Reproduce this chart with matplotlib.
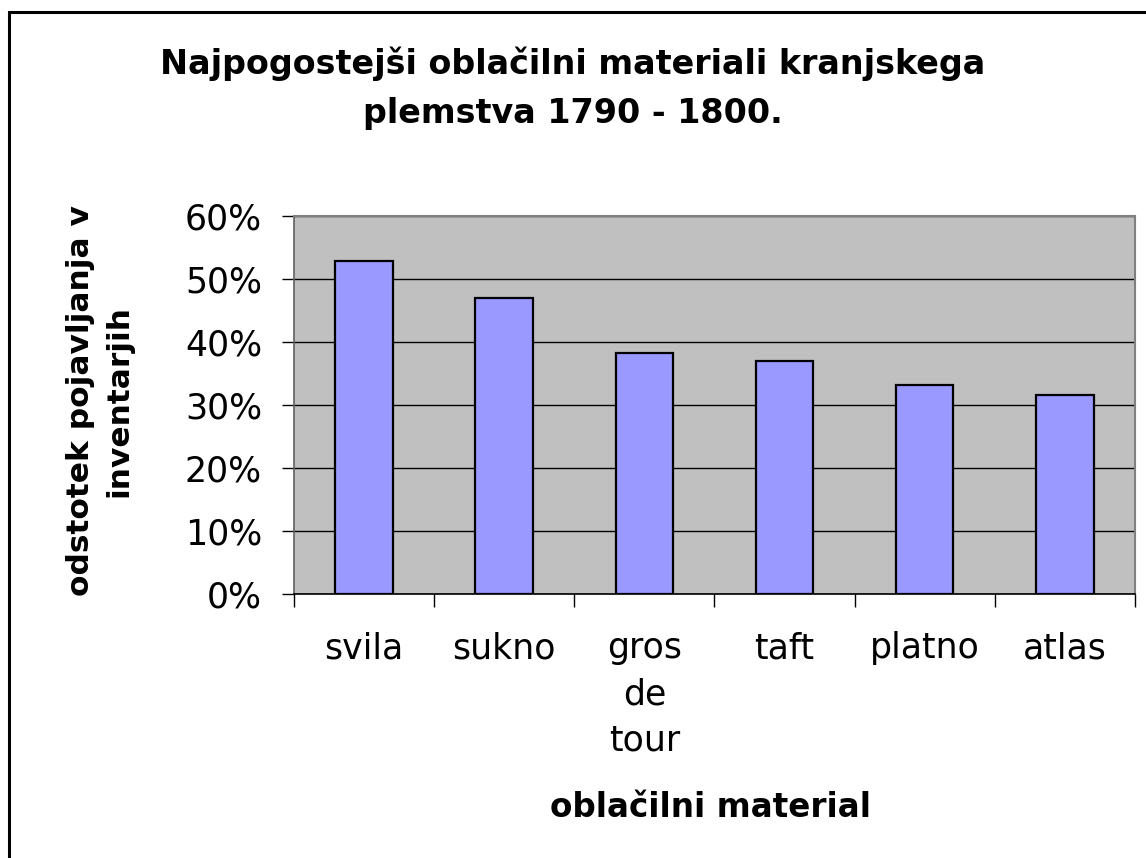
import matplotlib
matplotlib.use("Agg")
import matplotlib.pyplot as plt
from matplotlib.patches import Rectangle
from matplotlib.ticker import PercentFormatter

plt.rcParams['font.family'] = ['DejaVu Sans']

# data
materials = ['svila', 'sukno', 'gros\nde\ntour', 'taft', 'platno', 'atlas']
shares = [52.9, 47.0, 38.2, 37.0, 33.1, 31.6]

fig = plt.figure(figsize=(11.46, 8.58), dpi=100)
ax = fig.add_axes([0.2565, 0.3078, 0.7339, 0.4406])

# outer chart frame (only left and top edges visible)
fig.patches.append(Rectangle((0.0075, -0.2), 1.5, 0.986 + 0.2, transform=fig.transFigure,
                             fill=False, ec='black', lw=2.2, zorder=0))

ax.set_facecolor('#C0C0C0')
x = list(range(len(materials)))
ax.bar(x, shares, width=0.41, color='#9999FF', edgecolor='black', linewidth=1.6, zorder=3)

ax.set_xlim(-0.5, len(materials) - 0.5)
ax.set_ylim(0, 60)
ax.set_yticks([0, 10, 20, 30, 40, 50, 60])
ax.yaxis.set_major_formatter(PercentFormatter(decimals=0))
ax.grid(axis='y', color='black', linewidth=1.0, zorder=1)

# category ticks at boundaries, labels at centres
ax.set_xticks([i - 0.5 for i in range(len(materials) + 1)])
ax.set_xticklabels([])
ax.set_xticks(x, minor=True)
ax.set_xticklabels(materials, minor=True, fontsize=25, linespacing=1.45, va='top')
ax.tick_params(axis='x', which='minor', length=0, pad=27)
ax.tick_params(axis='x', which='major', length=9, width=1, color='black', direction='out')
ax.tick_params(axis='y', labelsize=25, length=9, width=1, pad=14, direction='out')

for side in ['top', 'right']:
    ax.spines[side].set_color('#808080')
    ax.spines[side].set_linewidth(1.5)
ax.spines['left'].set_color('#606060')
ax.spines['bottom'].set_color('black')
ax.spines['left'].set_linewidth(1.2)
ax.spines['bottom'].set_linewidth(1.2)

fig.text(0.5, 0.897, 'Najpogostejši oblačilni materiali kranjskega\nplemstva 1790 - 1800.',
         ha='center', va='center', fontsize=24, fontweight='bold', linespacing=1.6)
fig.text(0.6196, 0.0478, 'oblačilni material', ha='center', va='baseline',
         fontsize=23.5, fontweight='bold')
fig.text(0.087, 0.533, 'odstotek pojavljanja v\ninventarjih', ha='center', va='center',
         rotation=90, fontsize=22.5, fontweight='bold', linespacing=1.4)

fig.savefig('out.png', dpi=100)
